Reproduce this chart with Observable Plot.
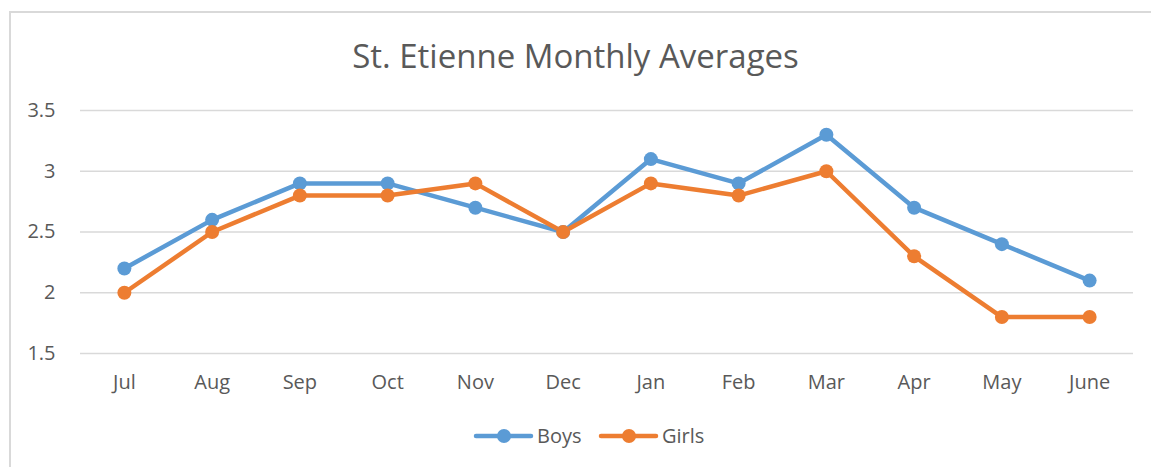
<!DOCTYPE html>
<html>
<head>
<meta charset="utf-8">
<script src="https://cdn.jsdelivr.net/npm/d3@7"></script>
<script src="https://cdn.jsdelivr.net/npm/@observablehq/plot@0.6"></script>
<style>
  html, body { margin: 0; padding: 0; background: #fff; }
  body { width: 1151px; height: 467px; position: relative; overflow: hidden; font-family: "Open Sans", "Noto Sans", sans-serif; }
  #frame { position: absolute; left: 9px; top: 11px; width: 1160px; height: 480px; border-left: 2px solid #d9d9d9; border-top: 2px solid #d9d9d9; }
  #title { position: absolute; left: 0; width: 1151px; top: 34px; text-align: center; font-size: 33px; color: #595959; line-height: 44px; }
  #chart { position: absolute; left: 0; top: 0; }
  #legend { position: absolute; left: 0; top: 420px; }
</style>
</head>
<body>
<div id="frame"></div>
<div id="title">St. Etienne Monthly Averages</div>
<div id="chart"></div>
<div id="legend"></div>
<script>
const months = ["Jul","Aug","Sep","Oct","Nov","Dec","Jan","Feb","Mar","Apr","May","June"];
const boys  = [2.2, 2.6, 2.9, 2.9, 2.7, 2.5, 3.1, 2.9, 3.3, 2.7, 2.4, 2.1];
const girls = [2.0, 2.5, 2.8, 2.8, 2.9, 2.5, 2.9, 2.8, 3.0, 2.3, 1.8, 1.8];
const seriesNames = ["Boys", "Girls"];
const seriesColors = ["#5B9BD5", "#ED7D31"];
const yTicks = [1.5, 2, 2.5, 3, 3.5];

const data = [];
months.forEach((m, i) => data.push({month: m, value: boys[i], series: "Boys"}));
months.forEach((m, i) => data.push({month: m, value: girls[i], series: "Girls"}));

const font = "'Open Sans', 'Noto Sans', sans-serif";
const plot = Plot.plot({
  width: 1151,
  height: 400,
  marginLeft: 80,
  marginRight: 18,
  marginTop: 110,
  marginBottom: 47,
  style: {fontFamily: font, fontSize: "20px", color: "#595959", background: "transparent"},
  x: {domain: months, type: "point", padding: 0.5, round: false, label: null},
  y: {domain: [1.5, 3.5], label: null},
  color: {domain: seriesNames, range: seriesColors},
  marks: [
    Plot.gridY(yTicks, {stroke: "#d9d9d9", strokeOpacity: 1, strokeWidth: 1.5}),
    Plot.axisY(yTicks, {tickSize: 0, tickPadding: 25, tickFormat: d => String(d), fill: "#595959", fontSize: 20}),
    Plot.axisX({tickSize: 0, tickPadding: 21, fill: "#595959", fontSize: 20}),
    Plot.line(data, {x: "month", y: "value", z: "series", stroke: "series", strokeWidth: 4.5, strokeLinejoin: "round", strokeLinecap: "round"}),
    Plot.dot(data, {x: "month", y: "value", fill: "series", r: 7, stroke: null})
  ]
});
document.getElementById("chart").appendChild(plot);

// legend
const ns = "http://www.w3.org/2000/svg";
const lsvg = document.createElementNS(ns, "svg");
lsvg.setAttribute("width", 1151);
lsvg.setAttribute("height", 40);
const legendX = [476, 601];
seriesNames.forEach((name, i) => {
  const x0 = legendX[i];
  const y0 = 16;
  const line = document.createElementNS(ns, "line");
  line.setAttribute("x1", x0); line.setAttribute("x2", x0 + 55);
  line.setAttribute("y1", y0); line.setAttribute("y2", y0);
  line.setAttribute("stroke", seriesColors[i]); line.setAttribute("stroke-width", 4.5);
  line.setAttribute("stroke-linecap", "round");
  lsvg.appendChild(line);
  const c = document.createElementNS(ns, "circle");
  c.setAttribute("cx", x0 + 28); c.setAttribute("cy", y0); c.setAttribute("r", 7);
  c.setAttribute("fill", seriesColors[i]);
  lsvg.appendChild(c);
  const t = document.createElementNS(ns, "text");
  t.setAttribute("x", x0 + 61); t.setAttribute("y", y0 + 7);
  t.setAttribute("fill", "#595959");
  t.setAttribute("font-size", "20px");
  t.setAttribute("font-family", font);
  t.textContent = name;
  lsvg.appendChild(t);
});
document.getElementById("legend").appendChild(lsvg);
</script>
</body>
</html>
